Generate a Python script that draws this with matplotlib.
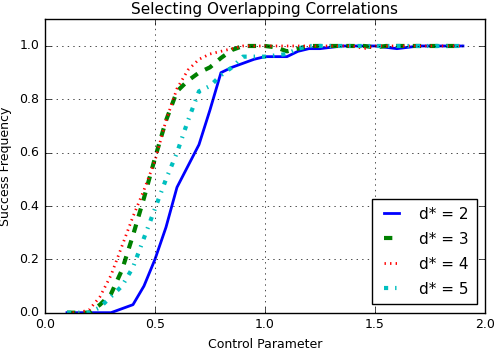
import numpy as np
import matplotlib
matplotlib.use('Agg')
import matplotlib.pyplot as plt

plt.style.use('classic')

# control parameter grid
x = np.arange(0.1, 1.9001, 0.05)

d2 = [0, 0, 0, 0, 0, 0.015, 0.03, 0.10, 0.20, 0.32, 0.47, 0.55, 0.63, 0.76,
      0.90, 0.92, 0.935, 0.95, 0.96, 0.96, 0.96, 0.98, 0.99, 0.99, 0.995, 1.0,
      1.0, 1.0, 1.0, 0.995, 0.99, 0.995, 1.0, 1.0, 1.0, 1.0, 1.0]
d3 = [0, 0, 0, 0.03, 0.07, 0.16, 0.29, 0.43, 0.58, 0.72, 0.83, 0.87, 0.90,
      0.92, 0.955, 0.985, 1.0, 1.0, 1.0, 0.995, 0.98, 0.99, 1.0, 1.0, 1.0,
      1.0, 1.0, 1.0, 0.995, 1.0, 1.0, 1.0, 1.0, 1.0, 1.0, 1.0, 1.0]
d4 = [0, 0, 0.01, 0.06, 0.14, 0.25, 0.36, 0.46, 0.57, 0.72, 0.84, 0.91, 0.95,
      0.97, 0.98, 0.99, 1.0, 1.0, 1.0, 1.0, 1.0, 1.0, 1.0, 1.0, 1.0, 1.0,
      1.0, 0.99, 1.0, 1.0, 1.0, 1.0, 1.0, 1.0, 1.0, 1.0, 1.0]
d5 = [0, 0, 0, 0.02, 0.06, 0.10, 0.17, 0.28, 0.39, 0.50, 0.60, 0.72, 0.83,
      0.85, 0.89, 0.92, 0.96, 0.96, 0.96, 0.965, 0.97, 0.99, 1.0, 1.0, 1.0,
      1.0, 1.0, 1.0, 1.0, 1.0, 1.0, 1.0, 1.0, 1.0, 1.0, 1.0, 1.0]

fig = plt.figure(figsize=(4.96, 3.48), dpi=100, facecolor='white')
ax = fig.add_axes([0.0907, 0.1015, 0.887, 0.843])

ax.plot(x, d2, 'b-', lw=2, label='d* = 2')
ax.plot(x, d3, 'g--', lw=3, label='d* = 3')
ax.plot(x, d4, 'r:', lw=2, label='d* = 4')
ax.plot(x, d5, 'c-.', lw=3, label='d* = 5')

ax.set_xlim(0, 2)
ax.set_ylim(0, 1.1)
ax.set_yticks([0, 0.2, 0.4, 0.6, 0.8, 1.0])
ax.grid(True)
ax.tick_params(labelsize=9)
ax.set_title('Selecting Overlapping Correlations', fontsize=11, pad=4)
ax.set_xlabel('Control Parameter', fontsize=9)
ax.set_ylabel('Success Frequency', fontsize=9)
ax.legend(loc='lower right', fontsize=11, handlelength=1.6, labelspacing=0.65,
          handletextpad=1.0, borderpad=0.5, borderaxespad=0.55)

fig.savefig('out.png', dpi=100, facecolor='white')
